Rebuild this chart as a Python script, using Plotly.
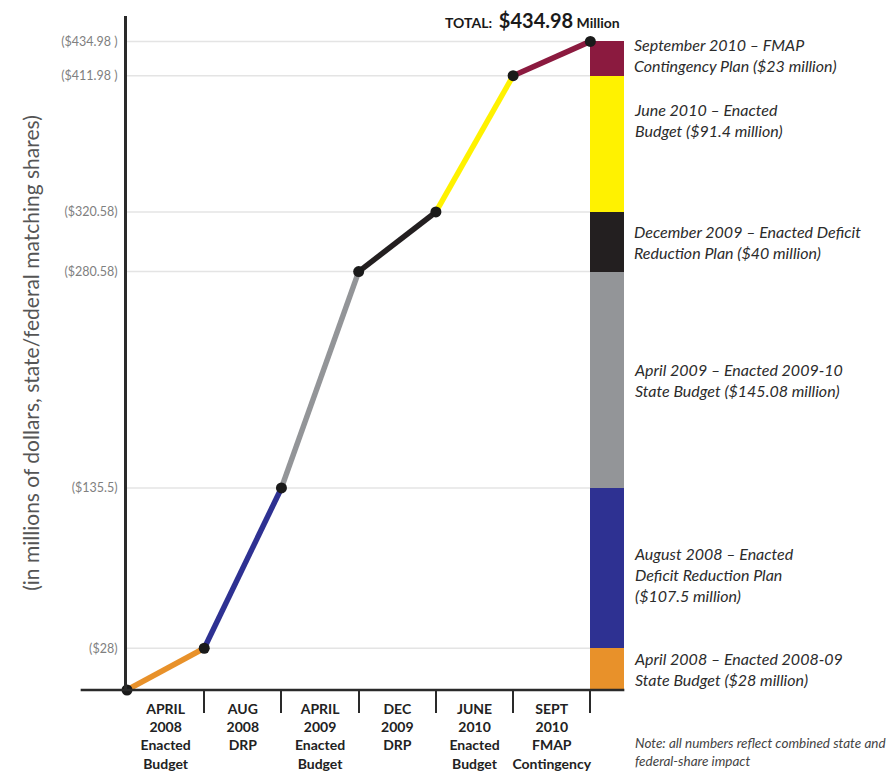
import numpy as np
import plotly.graph_objects as go

# Budget actions, in chronological order
periods = [
    "APRIL<br>2008<br>Enacted<br>Budget",
    "AUG<br>2008<br>DRP",
    "APRIL<br>2009<br>Enacted<br>Budget",
    "DEC<br>2009<br>DRP",
    "JUNE<br>2010<br>Enacted<br>Budget",
    "SEPT<br>2010<br>FMAP<br>Contingency",
]
increments = [28, 107.5, 145.08, 40, 91.4, 23]  # $ millions per action
segment_labels = [
    "April 2008 – Enacted 2008-09<br>State Budget ($28 million)",
    "August 2008 – Enacted<br>Deficit Reduction Plan<br>($107.5 million)",
    "April 2009 – Enacted 2009-10<br>State Budget ($145.08 million)",
    "December 2009 – Enacted Deficit<br>Reduction Plan ($40 million)",
    "June 2010 – Enacted<br>Budget ($91.4 million)",
    "September 2010 – FMAP<br>Contingency Plan ($23 million)",
]
y_tick_text = ["($28)", "($135.5)", "($280.58)", "($320.58)", "($411.98 )", "($434.98 )"]
total_label = "TOTAL:  <span style='font-size:20px'>$434.98</span> Million"
note = "Note: all numbers reflect combined state and<br>federal-share impact"

colors = ["#E8912A", "#2E3192", "#939598", "#231F20", "#FFF200", "#8B1A3F"]

cumulative = np.round(np.concatenate([[0.0], np.cumsum(increments)]), 2)
steps = np.arange(len(cumulative))          # period boundaries 0..6
label_pos = steps[:-1] + 0.5                # category labels sit between boundaries

X_MAX, Y_MAX = 9.88, 452
BAR_W = 0.44
bar_x = steps[-1] + BAR_W / 2
FONT = "Lato, 'Open Sans', sans-serif"


def paper_x(v):
    return v / X_MAX


fig = go.Figure()

# stacked bar summarising each action
for inc, col in zip(increments, colors):
    fig.add_trace(go.Bar(x=[bar_x], y=[inc], width=BAR_W, marker=dict(color=col, line=dict(width=0)),
                         showlegend=False, hoverinfo="y"))

# cumulative line, one coloured segment per action
for i, col in enumerate(colors):
    fig.add_trace(go.Scatter(x=steps[i:i + 2], y=cumulative[i:i + 2], mode="lines",
                             line=dict(color=col, width=5.5), cliponaxis=False,
                             showlegend=False, hoverinfo="skip"))

fig.add_trace(go.Scatter(x=steps, y=cumulative, mode="markers",
                         marker=dict(color="#1a1a1a", size=11), cliponaxis=False,
                         showlegend=False, hoverinfo="y"))

shapes = []
# light guide lines at each cumulative level
for v in cumulative[1:]:
    shapes.append(dict(type="line", xref="x", yref="y", x0=0, x1=steps[-1], y0=v, y1=v,
                       line=dict(color="#e4e4e4", width=1.5), layer="below"))
# baseline
shapes.append(dict(type="line", xref="paper", yref="paper", x0=paper_x(-0.6),
                   x1=paper_x(steps[-1] + BAR_W), y0=0, y1=0,
                   line=dict(color="#2a2a2a", width=2.5)))

annotations = []
mids = (cumulative[:-1] + cumulative[1:]) / 2
shifts = [0, -6, 0, 0, 24, 4]
for lbl, m, s in zip(segment_labels, mids, shifts):
    annotations.append(dict(x=steps[-1] + BAR_W, y=m, xref="x", yref="y", text=lbl,
                            showarrow=False, xanchor="left", yanchor="middle", align="left",
                            xshift=8, yshift=s,
                            font=dict(family=FONT, size=16, color="#2b2b2b", style="italic")))
annotations.append(dict(x=steps[-1], y=cumulative[-1], xref="x", yref="y", text=f"<b>{total_label}</b>",
                        showarrow=False, xanchor="right", yanchor="bottom", xshift=32, yshift=7,
                        font=dict(family=FONT, size=14, color="#1a1a1a")))
annotations.append(dict(x=paper_x(steps[-1] + BAR_W) + 0.011, y=-0.092, xref="paper", yref="paper",
                        text=note, showarrow=False, xanchor="left", yanchor="middle", align="left",
                        font=dict(family=FONT, size=13.5, color="#444444", style="italic")))

fig.update_layout(
    width=890, height=777,
    margin=dict(l=127, r=0, t=16, b=87, autoexpand=False),
    paper_bgcolor="white", plot_bgcolor="white",
    barmode="stack", bargap=0,
    shapes=shapes, annotations=annotations,
    font=dict(family=FONT),
    xaxis=dict(range=[0, X_MAX], showgrid=False, zeroline=False, showline=False, automargin=False,
               tickmode="array", tickvals=label_pos, ticktext=[f"<b>{p}</b>" for p in periods],
               ticks="", ticklabelstandoff=9,
               tickfont=dict(family=FONT, size=14, color="#222222"),
               minor=dict(tickmode="array", tickvals=list(steps[1:]), ticks="outside",
                          ticklen=22, tickwidth=2, tickcolor="#2a2a2a", showgrid=False)),
    yaxis=dict(range=[0, Y_MAX], showgrid=False, zeroline=False, automargin=False,
               showline=True, linecolor="#2a2a2a", linewidth=3,
               tickmode="array", tickvals=cumulative[1:], ticktext=y_tick_text,
               ticks="", ticklabelstandoff=4,
               tickfont=dict(family=FONT, size=12.5, color="#808080"),
               title=dict(text="(in millions of dollars, state/federal matching shares)",
                          font=dict(family=FONT, size=21, color="#555555"), standoff=16)),
)

fig.write_html("out.html")
